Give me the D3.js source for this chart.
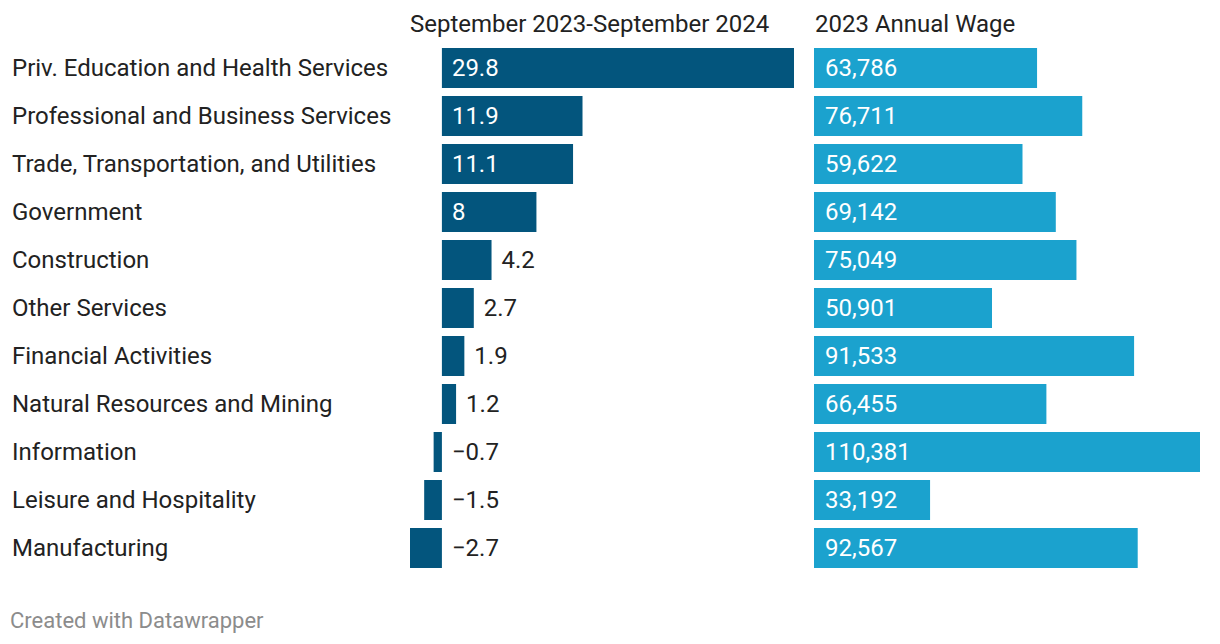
<!DOCTYPE html>
<html><head><meta charset="utf-8">
<script src="https://cdn.jsdelivr.net/npm/d3@7"></script>
<style>body{margin:0;background:#fff;}svg{display:block;font-family:Roboto,"Noto Sans",sans-serif;}</style>
</head><body>
<svg id="c" width="1220" height="644"></svg>
<script>
const categories = ["Priv. Education and Health Services","Professional and Business Services","Trade, Transportation, and Utilities","Government","Construction","Other Services","Financial Activities","Natural Resources and Mining","Information","Leisure and Hospitality","Manufacturing"];
const jobChange = [29.8,11.9,11.1,8,4.2,2.7,1.9,1.2,-0.7,-1.5,-2.7];
const annualWage = [63786,76711,59622,69142,75049,50901,91533,66455,110381,33192,92567];
const headers = ["September 2023-September 2024","2023 Annual Wage"];
const footer = "Created with Datawrapper";

const svg = d3.select("#c");
const y = d3.scaleBand().domain(categories).range([44,572]).paddingInner(8/48).paddingOuter(4/48);
const xL = d3.scaleLinear().domain([-2.7,29.8]).range([410,794]);
const xR = d3.scaleLinear().domain([0,110381]).range([814,1200]);
const dark = "#03557d", light = "#1ba2ce";
const fmtWage = d3.format(",");
const fs = 24;

svg.append("g").selectAll("text").data(categories).join("text")
  .attr("x",12).attr("y",d=>y(d)+y.bandwidth()/2).attr("dy","0.34em")
  .attr("font-size",fs).attr("fill","#222").text(d=>d);

svg.append("text").attr("x",410).attr("y",24).attr("dy","0.34em").attr("font-size",fs).attr("fill","#222").text(headers[0]);
svg.append("text").attr("x",815).attr("y",24).attr("dy","0.34em").attr("font-size",fs).attr("fill","#222").text(headers[1]);

const data = categories.map((c,i)=>({c,v:jobChange[i],w:annualWage[i]}));
const L = svg.append("g");
L.selectAll("rect").data(data).join("rect")
  .attr("x",d=>Math.min(xL(0),xL(d.v))).attr("width",d=>Math.abs(xL(d.v)-xL(0)))
  .attr("y",d=>y(d.c)).attr("height",y.bandwidth()).attr("fill",dark);
L.selectAll("text").data(data).join("text")
  .attr("x",d=> d.v>=8 ? xL(0)+10 : Math.max(xL(0),xL(d.v))+10)
  .attr("y",d=>y(d.c)+y.bandwidth()/2).attr("dy","0.34em").attr("font-size",fs)
  .attr("fill",d=>d.v>=8?"#fff":"#222")
  .text(d=>d.v<0?"\u2212"+Math.abs(d.v):String(d.v));

const R = svg.append("g");
R.selectAll("rect").data(data).join("rect")
  .attr("x",xR(0)).attr("width",d=>xR(d.w)-xR(0))
  .attr("y",d=>y(d.c)).attr("height",y.bandwidth()).attr("fill",light);
R.selectAll("text").data(data).join("text")
  .attr("x",xR(0)+11).attr("y",d=>y(d.c)+y.bandwidth()/2).attr("dy","0.34em")
  .attr("font-size",fs).attr("fill","#fff").text(d=>fmtWage(d.w));

svg.append("text").attr("x",10).attr("y",621).attr("dy","0.34em").attr("font-size",22).attr("fill","#8c8c8c").text(footer);
</script>
</body></html>
